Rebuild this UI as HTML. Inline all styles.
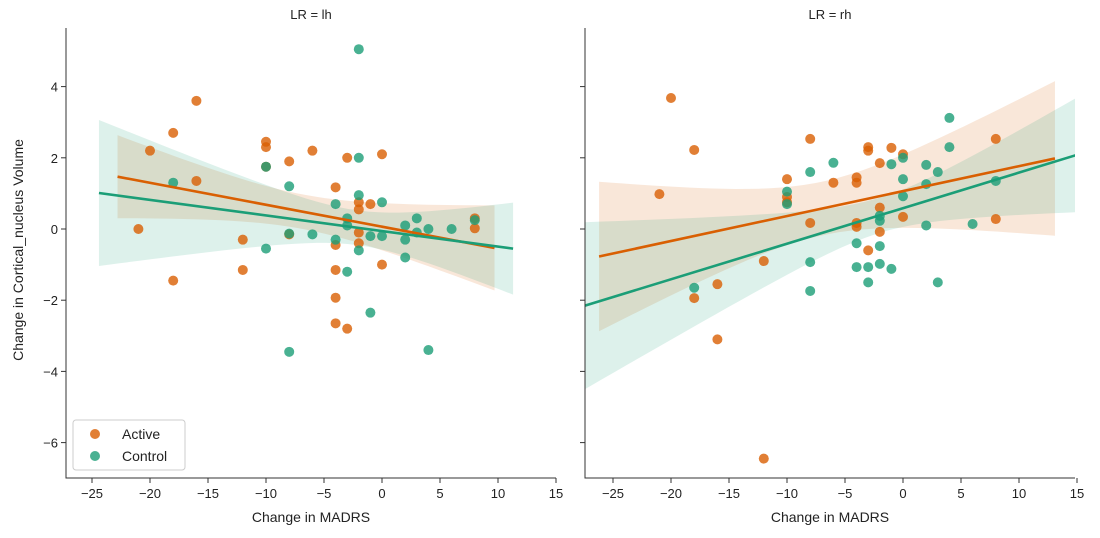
<!DOCTYPE html>
<html><head><meta charset="utf-8"><style>
body{margin:0;background:#fff;}
svg{display:block;font-family:"Liberation Sans","DejaVu Sans",sans-serif;}
</style></head><body>
<svg id="chart" width="1100" height="538" viewBox="0 0 1100 538"></svg>
<script>
// Data: [change in MADRS, change in volume]
const lhActiveX=[-21,-20,-18,-18,-16,-16,-12,-12,-10,-10,-10,-8,-8,-6,-4,-4,-4,-4,-4,-3,-3,-2,-2,-2,-2,-1,0,0,8,8];
const lhActiveY=[0,2.2,-1.45,2.7,3.6,1.35,-0.3,-1.15,2.45,2.3,1.75,1.9,-0.15,2.2,1.17,-1.15,-1.93,-2.65,-0.45,2.0,-2.8,0.75,0.55,-0.1,-0.4,0.7,2.1,-1.0,0.3,0.02];
const lhControlX=[-2,-2,-10,-18,-8,-4,-2,0,-3,-3,-10,-8,-6,-4,-3,-2,-1,0,2,3,3,2,2,4,6,8,-1,-8,4];
const lhControlY=[5.05,2.0,1.75,1.3,1.2,0.7,0.95,0.75,0.3,0.1,-0.55,-0.13,-0.15,-0.3,-1.2,-0.6,-0.2,-0.2,0.1,0.3,-0.1,-0.3,-0.8,0,0,0.25,-2.35,-3.45,-3.4];
const rhActiveX=[-20,-18,-21,-8,-10,-10,-10,-6,-4,-4,-3,-3,-1,0,-2,-8,-4,-4,-2,-2,-3,0,8,8,-12,-18,-16,-16,-12];
const rhActiveY=[3.68,2.22,0.98,2.53,1.4,0.9,0.75,1.3,1.45,1.3,2.3,2.2,2.28,2.1,1.85,0.17,0.17,0.06,0.6,-0.08,-0.6,0.34,2.53,0.28,-0.9,-1.94,-1.55,-3.1,-6.45];
const rhControlX=[4,4,-6,-8,0,-1,2,3,2,0,0,-10,-10,8,-2,-2,2,6,-4,-2,-8,-4,-3,-2,-1,-3,3,-8,-18];
const rhControlY=[3.12,2.3,1.86,1.6,2.0,1.82,1.8,1.6,1.26,1.4,0.92,1.05,0.7,1.35,0.37,0.23,0.1,0.14,-0.4,-0.48,-0.93,-1.07,-1.07,-0.98,-1.12,-1.5,-1.5,-1.74,-1.65];
const xTicks=[-25,-20,-15,-10,-5,0,5,10,15];
const yTicks=[-6,-4,-2,0,2,4];
const lineRanges={lh:[[-22.8,9.7],[-24.4,11.3]],rh:[[-26.2,13.1],[-28,15]]};

const NS="http://www.w3.org/2000/svg";
const svg=document.getElementById('chart');
const ORANGE="#d95f02", GREEN="#1b9e77";
function mk(tag,attrs,parent){const e=document.createElementNS(NS,tag);for(const k in attrs)e.setAttribute(k,attrs[k]);(parent||svg).appendChild(e);return e;}
function yS(v){return 229-v*35.6;}
const defs=mk('defs',{});
const panels=[
 {key:'lh',title:'LR = lh',x0:66,x1:556,zero:382,ci:1.65,sets:[[lhActiveX,lhActiveY,ORANGE],[lhControlX,lhControlY,GREEN]],labels:true},
 {key:'rh',title:'LR = rh',x0:585,x1:1075,zero:903,ci:2.05,sets:[[rhActiveX,rhActiveY,ORANGE],[rhControlX,rhControlY,GREEN]],labels:false}
];
function fit(X,Y){const n=X.length;const mx=X.reduce((a,b)=>a+b)/n,my=Y.reduce((a,b)=>a+b)/n;let sxx=0,sxy=0;for(let i=0;i<n;i++){sxx+=(X[i]-mx)**2;sxy+=(X[i]-mx)*(Y[i]-my);}const b=sxy/sxx,a=my-b*mx;let sse=0;for(let i=0;i<n;i++)sse+=(Y[i]-a-b*X[i])**2;const s=Math.sqrt(sse/(n-2));return{a,b,mx,sxx,s,n};}
panels.forEach((p,pi)=>{
 const xS=v=>p.zero+v*11.6;
 const cp=mk('clipPath',{id:'clip-'+p.key},defs);
 mk('rect',{x:p.x0,y:28,width:p.x1-p.x0,height:450},cp);
 const g=mk('g',{});
 
 
 const plot=mk('g',{'clip-path':'url(#clip-'+p.key+')'},g);
 
 
 const t=mk('text',{x:(p.x0+p.x1)/2,y:19,'text-anchor':'middle','font-size':13,fill:'#222'},g);t.textContent=p.title;
 
 
 p.sets.forEach((s,si)=>{
  const f=fit(s[0],s[1]);const r=lineRanges[p.key][si];
  const up=[],lo=[];const N=40;
  for(let k=0;k<=N;k++){const x=r[0]+(r[1]-r[0])*k/N;const yh=f.a+f.b*x;const se=f.s*Math.sqrt(1/f.n+(x-f.mx)**2/f.sxx)*p.ci;up.push(xS(x)+','+yS(yh+se));lo.unshift(xS(x)+','+yS(yh-se));}
  const band=mk('polygon',{points:up.concat(lo).join(' '),fill:s[2],'fill-opacity':0.15},plot);
  
  
 });
 p.sets.forEach((s,si)=>{
  for(let i=0;i<s[0].length;i++){const c=mk('circle',{cx:xS(s[0][i]),cy:yS(s[1][i]),r:5,fill:s[2],'fill-opacity':0.8},plot);
   
   }
 });
 p.sets.forEach((s,si)=>{
  const f=fit(s[0],s[1]);const r=lineRanges[p.key][si];
  const l=mk('line',{x1:xS(r[0]),y1:yS(f.a+f.b*r[0]),x2:xS(r[1]),y2:yS(f.a+f.b*r[1]),stroke:s[2],'stroke-width':2.6},plot);
  
  
 });
 const ax=mk('path',{d:`M${p.x0},28 V478 H${p.x1}`,fill:'none',stroke:'#333','stroke-width':1},g);
 
 
 xTicks.forEach(v=>{const x=xS(v);mk('line',{x1:x,x2:x,y1:478,y2:483,stroke:'#333'},g);
  const tl=mk('text',{x:x,y:498,'text-anchor':'middle','font-size':13,fill:'#222'},g);tl.textContent=(v<0?'\u2212'+(-v):v);
  
  });
 yTicks.forEach(v=>{const y=yS(v);mk('line',{x1:p.x0-5,x2:p.x0,y1:y,y2:y,stroke:'#333'},g);
  if(p.labels){const tl=mk('text',{x:p.x0-8,y:y+5,'text-anchor':'end','font-size':13,fill:'#222'},g);tl.textContent=(v<0?'\u2212'+(-v):v);
  
  }});
 const xl=mk('text',{x:(p.x0+p.x1)/2,y:522,'text-anchor':'middle','font-size':14,fill:'#222'},g);xl.textContent='Change in MADRS';
 
 
});
const yl=mk('text',{x:0,y:0,transform:'translate(23,250) rotate(-90)','text-anchor':'middle','font-size':14,fill:'#222'});yl.textContent='Change in Cortical_nucleus Volume';


const lg=mk('g',{});


mk('rect',{x:73,y:420,width:112,height:50,rx:3,fill:'#fff','fill-opacity':0.8,stroke:'#ccc'},lg);
[['Active',ORANGE,434],['Control',GREEN,456]].forEach(e=>{
 const eg=mk('g',{},lg);
 
 
 mk('circle',{cx:95,cy:e[2],r:5,fill:e[1],'fill-opacity':0.8},eg);
 const tx=mk('text',{x:122,y:e[2]+5,'font-size':14,fill:'#222'},eg);tx.textContent=e[0];
});
</script>
</body></html>
